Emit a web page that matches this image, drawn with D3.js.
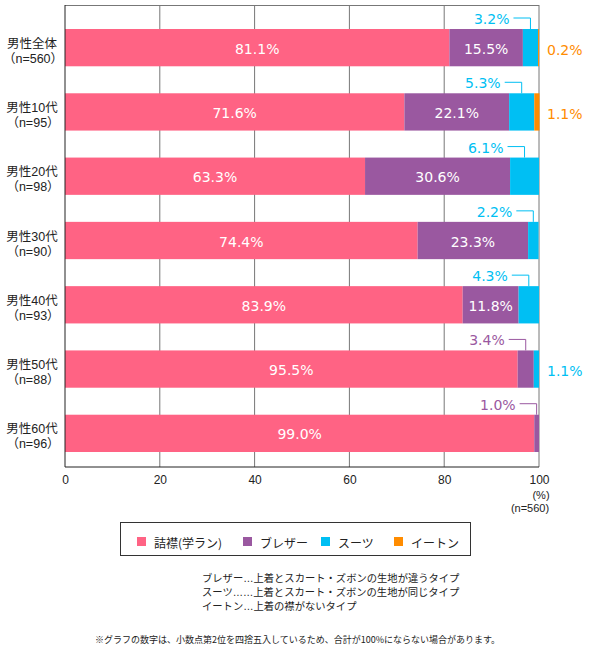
<!DOCTYPE html>
<html><head><meta charset="utf-8">
<script src="https://cdn.jsdelivr.net/npm/d3@7"></script>
<style>
body{margin:0;background:#fff;}
svg{display:block;font-family:"Noto Sans CJK JP","Noto Sans",sans-serif;}
</style></head>
<body>
<svg id="chart" width="589" height="651"></svg>
<script>
const categories = ["男性全体","男性10代","男性20代","男性30代","男性40代","男性50代","男性60代"];
const sampleSizes = [560,95,98,90,93,88,96];
const seriesNames = ["詰襟(学ラン)","ブレザー","スーツ","イートン"];
const tsumeeri = [81.1,71.6,63.3,74.4,83.9,95.5,99.0];
const blazer = [15.5,22.1,30.6,23.3,11.8,3.4,1.0];
const suit = [3.2,5.3,6.1,2.2,4.3,1.1,0];
const eton = [0.2,1.1,0,0,0,0,0];
const xTicks = [0,20,40,60,80,100];
const colors = ["#ff6384","#9a58a0","#00bff3","#ff8c00"];
const notes = ["ブレザー…上着とスカート・ズボンの生地が違うタイプ","スーツ……上着とスカート・ズボンの生地が同じタイプ","イートン…上着の襟がないタイプ"];
const footnote = "※グラフの数字は、小数点第2位を四捨五入しているため、合計が100%にならない場合があります。";

const seriesValues = [tsumeeri, blazer, suit, eton];
const numFont = "'DejaVu Sans',Verdana,sans-serif";
const tightFont = "'Liberation Sans','Noto Sans CJK JP',sans-serif";
const svg = d3.select("#chart");
const x = d3.scaleLinear().domain([0,100]).range([65,539]);
const y = d3.scaleBand().domain(categories).range([15.5,465.5]).paddingInner(0.42).paddingOuter(0.21);
const plotTop = 5, plotBottom = 467;

// gridlines
svg.append("g").selectAll("line").data(xTicks.filter(t=>t>0&&t<100)).join("line")
  .attr("x1",d=>x(d)).attr("x2",d=>x(d)).attr("y1",plotTop).attr("y2",plotBottom)
  .attr("stroke","#777").attr("stroke-width",1);
// frame
svg.append("line").attr("x1",x(0)).attr("x2",x(100)).attr("y1",plotTop+0.5).attr("y2",plotTop+0.5).attr("stroke","#777");
svg.append("line").attr("x1",x(100)).attr("x2",x(100)).attr("y1",plotTop).attr("y2",plotBottom).attr("stroke","#777");

// stacked data
const rows = categories.map((c,i)=>{
  let acc=0;
  return seriesValues.map((s,k)=>{const v=s[i];const seg={cat:c,k,v,x0:acc,x1:acc+v};acc+=v;return seg;});
});

const g = svg.append("g");
rows.forEach(row=>{
  g.append("g").selectAll("rect").data(row.filter(d=>d.v>0)).join("rect")
    .attr("x",d=>x(d.x0)).attr("width",d=>x(d.x1)-x(d.x0))
    .attr("y",d=>y(d.cat)).attr("height",y.bandwidth())
    .attr("fill",d=>colors[d.k]);
});

// axes lines
svg.append("line").attr("x1",x(0)).attr("x2",x(0)).attr("y1",plotTop).attr("y2",plotBottom).attr("stroke","#222");
svg.append("line").attr("x1",x(0)).attr("x2",x(100)).attr("y1",plotBottom).attr("y2",plotBottom).attr("stroke","#222");

// x axis labels
const xAxis = d3.axisBottom(x).tickValues(xTicks).tickSize(0).tickPadding(8).tickFormat(d3.format("d"));
const ax = svg.append("g").attr("transform",`translate(0,${plotBottom})`).call(xAxis);
ax.select(".domain").remove();
ax.selectAll("text").attr("font-size",12).attr("fill","#222").attr("font-family",tightFont);
svg.append("text").attr("x",x(100)+2).attr("y",499).attr("text-anchor","middle")
  .attr("font-family",tightFont).attr("font-size",11).attr("fill","#222").text("(%)");
svg.append("text").attr("x",x(100)-9).attr("y",512).attr("text-anchor","middle")
  .attr("font-family",tightFont).attr("font-size",11).attr("fill","#222").text("(n="+sampleSizes[0]+")");

// category labels
categories.forEach((c,i)=>{
  const cy = y(c)+y.bandwidth()/2;
  svg.append("text").attr("x",32).attr("y",cy).attr("text-anchor","middle")
    .attr("font-family",tightFont).attr("font-size",12.5).attr("fill","#222").text(c);
  svg.append("text").attr("x",33).attr("y",cy+15).attr("text-anchor","middle")
    .attr("font-family",tightFont).attr("font-size",12.5).attr("fill","#222").text("（n="+sampleSizes[i]+"）");
});

// value labels
const fmt = v=>v.toFixed(1)+"%";
rows.forEach(row=>{
  let smallCount=0;
  row.forEach(d=>{
    if(d.v<=0) return;
    const by = y(d.cat), cy = by+y.bandwidth()/2;
    if(d.v>=10){
      svg.append("text").attr("x",(x(d.x0)+x(d.x1))/2).attr("y",cy+1)
        .attr("text-anchor","middle").attr("dominant-baseline","central").attr("font-family",numFont)
        .attr("font-size",14).attr("fill","#fff").text(fmt(d.v));
    } else if(smallCount===0){
      smallCount++;
      const sx = (x(d.x0)+x(d.x1))/2;
      const ty = by-10;
      svg.append("path").attr("d",`M${sx-17},${ty-1}H${sx}V${by}`)
        .attr("fill","none").attr("stroke",colors[d.k]).attr("stroke-width",1);
      svg.append("text").attr("x",sx-21).attr("y",ty).attr("text-anchor","end").attr("dominant-baseline","central")
        .attr("font-family",numFont).attr("font-size",14).attr("fill",colors[d.k]).text(fmt(d.v));
    } else {
      smallCount++;
      svg.append("text").attr("x",x(100)+8).attr("y",cy+2).attr("text-anchor","start").attr("dominant-baseline","central")
        .attr("font-family",numFont).attr("font-size",14).attr("fill",colors[d.k]).text(fmt(d.v));
    }
  });
});

// legend
const lg = svg.append("g");
lg.append("rect").attr("x",120.5).attr("y",522.5).attr("width",350).attr("height",33).attr("fill","none").attr("stroke","#333");
const legendX = [137,243,321,394];
seriesNames.forEach((s,k)=>{
  lg.append("rect").attr("x",legendX[k]).attr("y",537).attr("width",9).attr("height",9).attr("fill",colors[k]);
  lg.append("text").attr("x",legendX[k]+17).attr("y",542).attr("dominant-baseline","central")
    .attr("font-size",12).attr("fill","#222").text(s);
});

// notes
notes.forEach((n,i)=>{
  svg.append("text").attr("x",202).attr("y",582+i*14.2)
    .attr("font-family",tightFont).attr("font-size",10.3).attr("fill","#222").text(n);
});
svg.append("text").attr("x",95).attr("y",639).attr("dominant-baseline","central")
  .attr("font-size",9).attr("fill","#222").text(footnote);
</script>
</body></html>
